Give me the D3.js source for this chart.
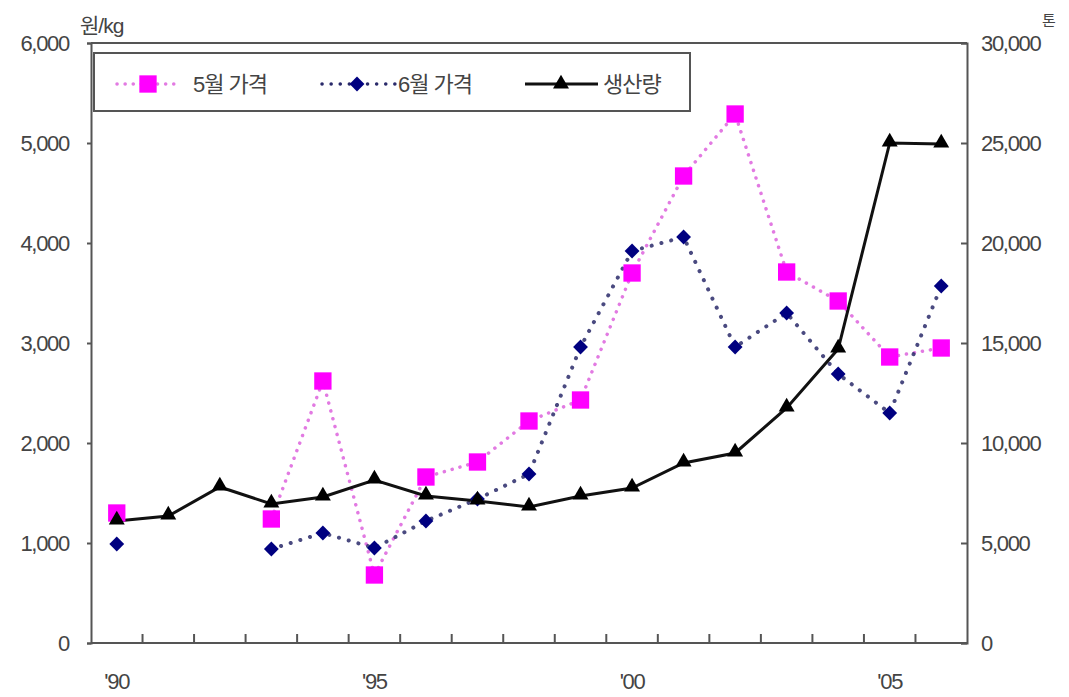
<!DOCTYPE html>
<html>
<head>
<meta charset="utf-8">
<script src="https://cdn.jsdelivr.net/npm/d3@7/dist/d3.min.js"></script>
<style>
  body { margin: 0; background: #fff; }
  svg text { font-family: "Liberation Sans", Arial, "Noto Sans CJK KR", sans-serif; fill: #444; }
</style>
</head>
<body>
<svg id="chart" width="1069" height="697"></svg>
<script>
// Years 1990–2006
const years = ["90","91","92","93","94","95","96","97","98","99","00","01","02","03","04","05","06"];
const xLabels = {"90": "'90", "95": "'95", "00": "'00", "05": "'05"};

// May price (원/kg); null = no data
const mayPrice = [1300, null, null, 1240, 2620, 680, 1660, 1810, 2220, 2430, 3700, 4670, 5290, 3710, 3420, 2860, 2950];
// June price (원/kg)
const junePrice = [990, null, null, 940, 1100, 950, 1220, 1440, 1690, 2960, 3920, 4060, 2960, 3300, 2690, 2300, 3570];
// Production (톤)
const production = [6100, 6350, 7800, 6950, 7300, 8150, 7350, 7100, 6800, 7350, 7750, 9000, 9500, 11750, 14700, 25000, 24950];

const leftTicks = [0, 1000, 2000, 3000, 4000, 5000, 6000];
const rightTicks = [0, 5000, 10000, 15000, 20000, 25000, 30000];

const svg = d3.select("#chart");
const m = { left: 91, right: 967, top: 43, bottom: 643 };

const x = d3.scaleBand().domain(years).range([m.left, m.right]);
const cx = d => x(d) + x.bandwidth() / 2;
const yL = d3.scaleLinear().domain([0, 6000]).range([m.bottom, m.top]);
const yR = d3.scaleLinear().domain([0, 30000]).range([m.bottom, m.top]);
const fmt = d3.format(",");

// Frame: top border line
svg.append("line").attr("x1", m.left).attr("x2", m.right).attr("y1", m.top).attr("y2", m.top)
  .attr("stroke", "#555").attr("stroke-width", 2);

// Left axis
const gL = svg.append("g").attr("transform", `translate(${m.left},0)`)
  .call(d3.axisLeft(yL).tickValues(leftTicks).tickFormat(fmt).tickSize(4).tickPadding(18));
// Right axis (ticks point inward)
const gR = svg.append("g").attr("transform", `translate(${m.right},0)`)
  .call(d3.axisRight(yR).tickValues(rightTicks).tickFormat(fmt).tickSize(-6).tickPadding(14));
// Bottom axis: ticks between categories, pointing up
const gB = svg.append("g").attr("transform", `translate(0,${m.bottom})`)
  .call(d3.axisBottom(x).tickFormat(d => xLabels[d] || "").tickSize(0).tickPadding(30));
gB.selectAll(".tick").filter((d, i) => i > 0).append("line")
  .attr("x1", -x.bandwidth() / 2).attr("x2", -x.bandwidth() / 2).attr("y1", 0).attr("y2", -9)
  .attr("stroke", "#555").attr("stroke-width", 2);

[gL, gR, gB].forEach(g => {
  g.select(".domain").attr("stroke", "#555").attr("stroke-width", 2);
  g.selectAll(".tick line").attr("stroke", "#555").attr("stroke-width", 2);
  g.selectAll("text").attr("font-size", 22).attr("letter-spacing", -1.3).attr("fill", "#444");
});
gB.select(".domain").attr("d", `M${m.left},0H${m.right}`);

// Unit labels
svg.append("text").attr("x", 80).attr("y", 33).attr("font-size", 21).attr("letter-spacing", -1).text("원/kg");
svg.append("text").attr("x", 1042).attr("y", 26).attr("font-size", 15).text("톤");

// Lines (price lines are dotted and break where data is missing)
const lineL = d3.line().defined(d => d.v != null).x(d => cx(d.k)).y(d => yL(d.v));
const lineR = d3.line().x(d => cx(d.k)).y(d => yR(d.v));
const toPts = arr => years.map((k, i) => ({ k, v: arr[i] }));

svg.append("path").datum(toPts(mayPrice)).attr("d", lineL)
  .attr("fill", "none").attr("stroke", "#e27ae2").attr("stroke-width", 3.5)
  .attr("stroke-dasharray", "0.1 8").attr("stroke-linecap", "round");
svg.append("path").datum(toPts(junePrice)).attr("d", lineL)
  .attr("fill", "none").attr("stroke", "#2a2a6a").attr("stroke-width", 4)
  .attr("stroke-dasharray", "0.1 10").attr("stroke-linecap", "round").attr("opacity", 0.85);
svg.append("path").datum(toPts(production)).attr("d", lineR)
  .attr("fill", "none").attr("stroke", "#111").attr("stroke-width", 3);

// Markers
const sq = d3.symbol().type(d3.symbolSquare).size(300);
const dia = d3.symbol().type(d3.symbolSquare).size(110);
const tri = d3.symbol().type(d3.symbolTriangle).size(110);

svg.append("g").selectAll("path").data(toPts(mayPrice).filter(d => d.v != null)).join("path")
  .attr("d", sq).attr("transform", d => `translate(${cx(d.k)},${yL(d.v)})`).attr("fill", "#ff00ff");
svg.append("g").selectAll("path").data(toPts(junePrice).filter(d => d.v != null)).join("path")
  .attr("d", dia).attr("transform", d => `translate(${cx(d.k)},${yL(d.v)}) rotate(45)`).attr("fill", "#000080");
svg.append("g").selectAll("path").data(toPts(production)).join("path")
  .attr("d", tri).attr("transform", d => `translate(${cx(d.k)},${yR(d.v) - 1})`).attr("fill", "#000");

// Legend
const lg = svg.append("g");
lg.append("rect").attr("x", 94).attr("y", 53).attr("width", 596).attr("height", 58)
  .attr("fill", "#fff").attr("stroke", "#555").attr("stroke-width", 2);
const items = [
  { label: "5월 가격", x0: 117, x1: 180, mx: 148, color: "#e27ae2", mark: sq, mfill: "#ff00ff", dash: "0.1 8", rot: 0, tx: 193 },
  { label: "6월 가격", x0: 322, x1: 396, mx: 357, color: "#2a2a6a", mark: dia, mfill: "#000080", dash: "0.1 9", rot: 45, tx: 398 },
  { label: "생산량", x0: 525, x1: 598, mx: 561, color: "#111", mark: tri, mfill: "#000", dash: null, rot: 0, tx: 603 }
];
items.forEach(it => {
  const ly = 84;
  lg.append("line").attr("x1", it.x0).attr("x2", it.x1).attr("y1", ly).attr("y2", ly)
    .attr("stroke", it.color).attr("stroke-width", it.dash ? 3.5 : 3)
    .attr("stroke-dasharray", it.dash).attr("stroke-linecap", it.dash ? "round" : "butt");
  lg.append("path").attr("d", it.mark).attr("transform", `translate(${it.mx},${ly}) rotate(${it.rot})`).attr("fill", it.mfill);
  lg.append("text").attr("x", it.tx).attr("y", ly + 8).attr("font-size", 22).attr("letter-spacing", -1).text(it.label);
});
</script>
</body>
</html>
